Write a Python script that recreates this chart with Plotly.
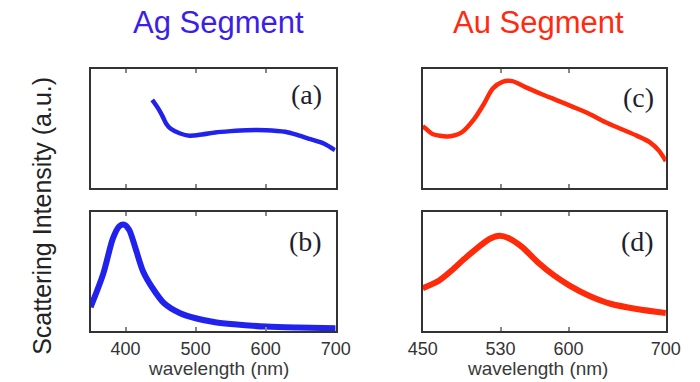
import plotly.graph_objects as go

# ---- data (normalised scattering intensity) ----
ag_a_wl = [438, 443, 448, 453, 458, 464, 478, 491, 509, 528, 550, 573, 600, 628, 646, 664, 683, 699]
ag_a_int = [0.74, 0.70, 0.655, 0.60, 0.54, 0.50, 0.458, 0.44, 0.45, 0.467, 0.478, 0.486, 0.486, 0.472, 0.444, 0.41, 0.374, 0.318]

ag_b_wl = [350, 368, 382, 391, 398, 405, 414, 425, 437, 455, 478, 500, 528, 555, 601, 646, 700]
ag_b_int = [0.20, 0.48, 0.78, 0.88, 0.893, 0.851, 0.697, 0.50, 0.374, 0.233, 0.149, 0.107, 0.073, 0.056, 0.037, 0.029, 0.023]

au_c_wl = [450, 453, 460, 476, 490, 503, 513, 522, 532, 542, 555, 572, 588, 605, 621, 638, 654, 670, 684, 693, 700]
au_c_int = [0.52, 0.50, 0.454, 0.433, 0.467, 0.581, 0.708, 0.836, 0.892, 0.898, 0.85, 0.79, 0.737, 0.68, 0.624, 0.552, 0.496, 0.44, 0.382, 0.312, 0.227]

au_d_wl = [450, 467, 480, 492, 505, 519, 529, 539, 552, 568, 585, 601, 621, 644, 670, 700]
au_d_int = [0.36, 0.425, 0.51, 0.60, 0.69, 0.775, 0.80, 0.778, 0.707, 0.58, 0.467, 0.382, 0.297, 0.227, 0.185, 0.151]

ag_ticks = [400, 500, 600, 700]
au_ticks = [450, 530, 600, 700]
ag_range = [350, 700]
au_range = [450, 700]

panel_labels = ["(a)", "(b)", "(c)", "(d)"]
col_titles = ["Ag Segment", "Au Segment"]
x_title = "wavelength (nm)"
y_title = "Scattering Intensity (a.u.)"

BLUE = "#2222ee"
RED = "#ff2a0a"
W, H = 700, 382

fig = go.Figure()
fig.add_trace(go.Scatter(x=ag_a_wl, y=ag_a_int, mode="lines", line=dict(color=BLUE, width=4.5, shape="spline", smoothing=0.8), xaxis="x", yaxis="y"))
fig.add_trace(go.Scatter(x=ag_b_wl, y=ag_b_int, mode="lines", line=dict(color=BLUE, width=6, shape="spline", smoothing=0.8), xaxis="x2", yaxis="y2"))
fig.add_trace(go.Scatter(x=au_c_wl, y=au_c_int, mode="lines", line=dict(color=RED, width=4.5, shape="spline", smoothing=0.8), xaxis="x3", yaxis="y3"))
fig.add_trace(go.Scatter(x=au_d_wl, y=au_d_int, mode="lines", line=dict(color=RED, width=6, shape="spline", smoothing=0.8), xaxis="x4", yaxis="y4"))

left_dom = [79 / W, 335 / W]
right_dom = [426 / W, 680 / W]
top_dom = [1 - 188 / H, 1 - 69 / H]
bot_dom = [1 - 331 / H, 1 - 212 / H]

tickfont = dict(family="Liberation Sans, Arial", size=18, color="#333333")


def xax(dom, rng, ticks, anchor, labels):
    return dict(domain=dom, range=rng, tickvals=ticks, ticktext=[str(t) for t in ticks],
                showticklabels=labels, ticks="inside", ticklen=4, tickwidth=1.5, tickcolor="#888888",
                showline=True, linewidth=2, linecolor="#333333", mirror="ticks",
                showgrid=False, zeroline=False, anchor=anchor, tickfont=tickfont, fixedrange=True)


def yax(dom, anchor):
    return dict(domain=dom, range=[0, 1], showticklabels=False, ticks="",
                showline=True, linewidth=2, linecolor="#333333", mirror=True,
                showgrid=False, zeroline=False, anchor=anchor, fixedrange=True)


fig.update_layout(
    width=W, height=H, margin=dict(l=0, r=0, t=0, b=0),
    paper_bgcolor="white", plot_bgcolor="white", showlegend=False,
    xaxis=xax(left_dom, ag_range, ag_ticks, "y", False),
    yaxis=yax(top_dom, "x"),
    xaxis2=xax(left_dom, ag_range, ag_ticks, "y2", True),
    yaxis2=yax(bot_dom, "x2"),
    xaxis3=xax(right_dom, au_range, au_ticks, "y3", False),
    yaxis3=yax(top_dom, "x3"),
    xaxis4=xax(right_dom, au_range, au_ticks, "y4", True),
    yaxis4=yax(bot_dom, "x4"),
)

ann = []
# column titles
ann.append(dict(text=col_titles[0], x=213 / W, y=1 - 22 / H, xref="paper", yref="paper",
                showarrow=False, xanchor="center", yanchor="middle",
                font=dict(family="Liberation Sans, Arial", size=31, color="#3b1ee8")))
ann.append(dict(text=col_titles[1], x=547 / W, y=1 - 22 / H, xref="paper", yref="paper",
                showarrow=False, xanchor="center", yanchor="middle",
                font=dict(family="Liberation Sans, Arial", size=31, color="#ff2a10")))
# x titles
for cx in (213, 546):
    ann.append(dict(text=x_title, x=cx / W, y=1 - 368 / H, xref="paper", yref="paper",
                    showarrow=False, xanchor="center", yanchor="middle",
                    font=dict(family="Liberation Sans, Arial", size=19, color="#3a3a3a")))
# y title
ann.append(dict(text=y_title, x=28 / W, y=1 - 216 / H, xref="paper", yref="paper", textangle=-90,
                showarrow=False, xanchor="center", yanchor="middle",
                font=dict(family="Liberation Sans, Arial", size=25, color="#222222")))
# panel labels
for lab, (px, py) in zip(panel_labels, [(323, 95), (323, 241), (670, 97), (670, 241)]):
    ann.append(dict(text=lab, x=px / W, y=1 - py / H, xref="paper", yref="paper",
                    showarrow=False, xanchor="right", yanchor="middle",
                    font=dict(family="Liberation Serif, Times New Roman", size=28, color="#1e1e2e")))
fig.update_layout(annotations=ann)

fig.write_html("out.html")
